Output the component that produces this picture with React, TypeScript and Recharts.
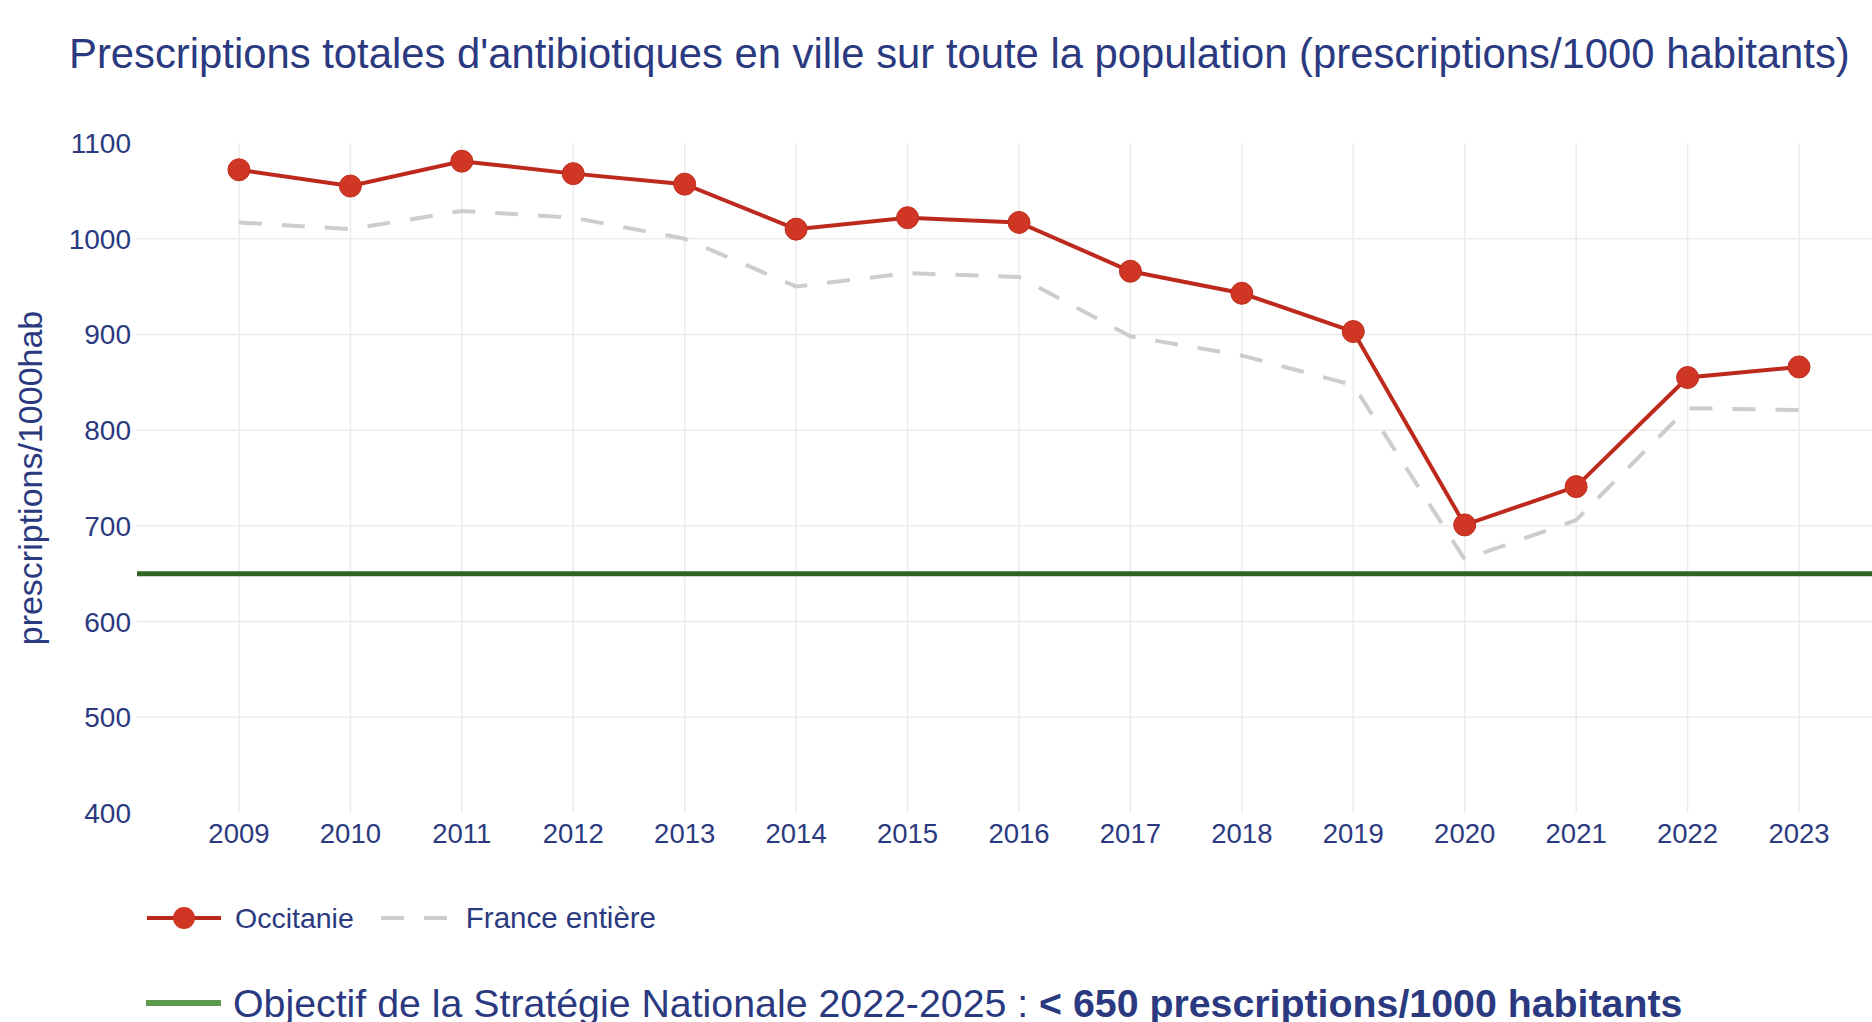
import { LineChart, Line, XAxis, YAxis, CartesianGrid, ReferenceLine, Legend, Label } from "recharts";

const years = [2009, 2010, 2011, 2012, 2013, 2014, 2015, 2016, 2017, 2018, 2019, 2020, 2021, 2022, 2023];
const occitanie = [1072, 1055, 1081, 1068, 1057, 1010, 1022, 1017, 966, 943, 903, 701, 741, 855, 866];
const france = [1017, 1010, 1029, 1022, 1000, 950, 964, 960, 898, 878, 847, 665, 706, 823, 821];
const yTicks = [400, 500, 600, 700, 800, 900, 1000, 1100];
const gridY = [500, 600, 700, 800, 900, 1000];
const objectif = 650;

const NAVY = "#2b3a80";
const FONT = "'Liberation Sans', Arial, sans-serif";

const data = years.map((y, i) => ({ year: y, occitanie: occitanie[i], france: france[i] }));

function LegendBox() {
  return (
    <div style={{ position: "relative", height: 142, width: 1872, fontFamily: FONT, color: NAVY }}>
      <div style={{ position: "absolute", top: 18, left: 147, height: 40, display: "flex", alignItems: "center" }}>
        <svg width={74} height={30}>
          <line x1={0} y1={15} x2={74} y2={15} stroke="#b8281c" strokeWidth={4} />
          <circle cx={37} cy={15} r={11} fill="#cf3724" />
        </svg>
        <span style={{ fontSize: 28.5, marginLeft: 14 }}>Occitanie</span>
        <svg width={66} height={30} style={{ marginLeft: 27 }}>
          <line x1={0} y1={15} x2={66} y2={15} stroke="#cdcdcd" strokeWidth={4} strokeDasharray="23 20" />
        </svg>
        <span style={{ fontSize: 29.5, marginLeft: 19 }}>France entière</span>
      </div>
      <div style={{ position: "absolute", top: 100, left: 146, height: 46, display: "flex", alignItems: "center" }}>
        <svg width={75} height={20}>
          <line x1={0} y1={10} x2={75} y2={10} stroke="#5c9c4c" strokeWidth={6} />
        </svg>
        <span style={{ fontSize: 39.3, marginLeft: 12, whiteSpace: "nowrap" }}>
          Objectif de la Stratégie Nationale 2022-2025 : <b>&lt; 650 prescriptions/1000 habitants</b>
        </span>
      </div>
    </div>
  );
}

export default function App() {
  return (
    <div style={{ position: "absolute", left: 0, top: 0, width: 1872, height: 1022, background: "#fff", fontFamily: FONT }}>
      <div style={{ position: "absolute", left: 69, top: 30, fontSize: 41.8, color: NAVY, whiteSpace: "nowrap", lineHeight: "48px" }}>
        Prescriptions totales d'antibiotiques en ville sur toute la population (prescriptions/1000 habitants)
      </div>
      <LineChart width={1872} height={1022} data={data} margin={{ top: 143, right: 0, bottom: 0, left: 0 }}>
        <CartesianGrid stroke="#ebebeb" strokeWidth={1.5} horizontalValues={gridY} verticalValues={years} />
        <XAxis
          dataKey="year" type="number" domain={[2008.085, 2023.655]} ticks={years} allowDataOverflow
          height={67} axisLine={false} tickLine={false} tickSize={0} tickMargin={10}
          tick={{ fill: NAVY, fontSize: 27.5, fontFamily: FONT }}
        />
        <YAxis
          domain={[400, 1100]} ticks={yTicks} width={137} axisLine={false} tickLine={false}
          tickSize={0} tickMargin={6} tick={{ fill: NAVY, fontSize: 28, fontFamily: FONT }}
        >
          <Label value="prescriptions/1000hab" angle={-90} position="insideLeft" offset={30}
            style={{ textAnchor: "middle", fill: NAVY, fontSize: 34, fontFamily: FONT }} />
        </YAxis>
        <ReferenceLine y={objectif} stroke="#2f6522" strokeWidth={5} />
        <Line
          dataKey="france" stroke="#cdcdcd" strokeWidth={4} strokeDasharray="23 20"
          dot={false} activeDot={false} isAnimationActive={false}
        />
        <Line
          dataKey="occitanie" stroke="#bd2a1d" strokeWidth={4}
          dot={{ r: 11, fill: "#cf3724", stroke: "#c02d1e", strokeWidth: 1 }}
          activeDot={false} isAnimationActive={false}
        />
        <Legend verticalAlign="bottom" content={() => <LegendBox />} />
      </LineChart>
    </div>
  );
}
